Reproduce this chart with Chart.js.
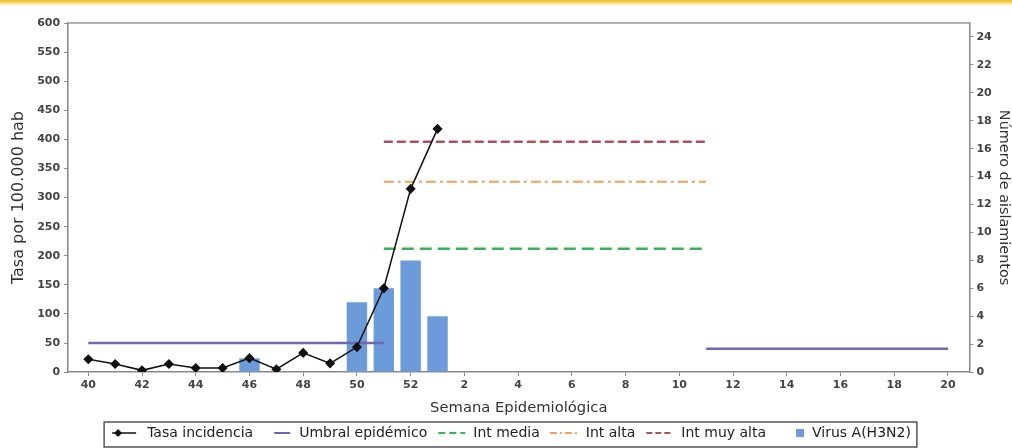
<!DOCTYPE html>
<html>
<head>
<meta charset="utf-8">
<script src="https://cdn.jsdelivr.net/npm/chart.js@4/dist/chart.umd.min.js"></script>
<style>
html, body { margin: 0; padding: 0; background: #fff; }
#wrap { position: relative; width: 1012px; height: 448px; }
#strip { position: absolute; left: 0; top: 0; width: 1012px; height: 6px; background: linear-gradient(#f0bd1a, rgba(255,255,255,0)); }
</style>
</head>
<body>
<div id="wrap">
  <canvas id="fluChart" width="1012" height="448"></canvas>
  <div id="strip"></div>
</div>
<script>
// semanas epidemiologicas (40..52, 1..20)
const weeks = [40, 41, 42, 43, 44, 45, 46, 47, 48, 49, 50, 51, 52,
  1, 2, 3, 4, 5, 6, 7, 8, 9, 10, 11, 12, 13, 14, 15, 16, 17, 18, 19, 20];

const tasaIncidencia = [22, 14, 3, 14, 7, 7, 24, 5, 33, 15, 43, 144, 315, 418,
  null, null, null, null, null, null, null, null, null, null, null, null, null, null, null, null, null, null, null];

const umbralEpidemico = [50, 50, 50, 50, 50, 50, 50, 50, 50, 50, 50, 50,
  null, null, null, null, null, null, null, null, null, null, null,
  40, 40, 40, 40, 40, 40, 40, 40, 40, 40];

const intMedia = [null, null, null, null, null, null, null, null, null, null, null,
  212, 212, 212, 212, 212, 212, 212, 212, 212, 212, 212, 212, 212,
  null, null, null, null, null, null, null, null, null];

const intAlta = [null, null, null, null, null, null, null, null, null, null, null,
  327, 327, 327, 327, 327, 327, 327, 327, 327, 327, 327, 327, 327,
  null, null, null, null, null, null, null, null, null];

const intMuyAlta = [null, null, null, null, null, null, null, null, null, null, null,
  396, 396, 396, 396, 396, 396, 396, 396, 396, 396, 396, 396, 396,
  null, null, null, null, null, null, null, null, null];

const virusH3N2 = [null, null, null, null, null, null, 1, null, null, null, 5, 6, 8, 4,
  null, null, null, null, null, null, null, null, null, null, null, null, null, null, null, null, null, null, null];

const toXY = arr => arr.map((v, i) => ({ x: i, y: v }));

Chart.defaults.font.family = '"DejaVu Sans", sans-serif';
Chart.defaults.color = '#333';

// small legend symbols
function icon(draw) {
  const c = document.createElement('canvas');
  c.width = 30; c.height = 14;
  const g = c.getContext('2d');
  draw(g);
  return c;
}
function hline(g, color, width, dash, x0, x1) {
  g.strokeStyle = color; g.lineWidth = width; g.setLineDash(dash);
  g.beginPath(); g.moveTo(x0, 7); g.lineTo(x1, 7); g.stroke();
}
const legendIcons = [
  icon(g => {
    hline(g, '#111', 1.5, [], 2, 26);
    g.fillStyle = '#111';
    g.beginPath(); g.moveTo(8, 3); g.lineTo(12, 7); g.lineTo(8, 11); g.lineTo(4, 7); g.closePath(); g.fill();
  }),
  icon(g => hline(g, '#6f67b3', 2, [], 12, 28)),
  icon(g => hline(g, '#33b35a', 2, [7, 4], 2, 29)),
  icon(g => hline(g, '#f2a05a', 2, [7, 3, 2, 3], 1, 30)),
  icon(g => hline(g, '#b0505a', 2, [6, 3], 2, 29)),
  icon(g => { g.fillStyle = '#6b9bd8'; g.fillRect(21, 3, 8, 8); })
];

const frames = {
  id: 'frames',
  afterDraw(chart) {
    const ctx = chart.ctx;
    const a = chart.chartArea;
    ctx.save();
    ctx.strokeStyle = '#999';
    ctx.lineWidth = 1.5;
    ctx.beginPath(); ctx.moveTo(a.left, a.top); ctx.lineTo(a.right, a.top); ctx.stroke();
    const boxes = chart.legend.legendHitBoxes;
    if (boxes.length) {
      const first = boxes[0], last = boxes[boxes.length - 1];
      ctx.strokeStyle = '#555';
      ctx.strokeRect(first.left - 6, first.top - 4, last.left + last.width - first.left + 12, first.height + 11);
    }
    ctx.restore();
  }
};

const tickFont = { size: 11, weight: 'bold' };

new Chart(document.getElementById('fluChart'), {
  data: {
    datasets: [
      { type: 'line', label: 'Tasa incidencia', data: toXY(tasaIncidencia), yAxisID: 'y',
        borderColor: '#111', backgroundColor: '#111', borderWidth: 1.5,
        pointStyle: 'rectRot', pointRadius: 4, pointBackgroundColor: '#111' },
      { type: 'line', label: 'Umbral epidémico', data: toXY(umbralEpidemico), yAxisID: 'y',
        borderColor: '#6f67b3', borderWidth: 2.5, pointRadius: 0 },
      { type: 'line', label: 'Int media', data: toXY(intMedia), yAxisID: 'y',
        borderColor: '#33b35a', borderWidth: 2.5, borderDash: [12, 6], pointRadius: 0 },
      { type: 'line', label: 'Int alta', data: toXY(intAlta), yAxisID: 'y',
        borderColor: '#f2a05a', borderWidth: 2, borderDash: [10, 4, 3, 4], pointRadius: 0 },
      { type: 'line', label: 'Int muy alta', data: toXY(intMuyAlta), yAxisID: 'y',
        borderColor: '#b0505a', borderWidth: 2.5, borderDash: [9, 4], pointRadius: 0 },
      { type: 'bar', label: 'Virus A(H3N2)', data: toXY(virusH3N2), yAxisID: 'y1',
        backgroundColor: '#6b9bd8', categoryPercentage: 0.8, barPercentage: 0.95 }
    ]
  },
  options: {
    responsive: false,
    animation: false,
    layout: { padding: { left: 9, right: 0, top: 23, bottom: -2 } },
    plugins: {
      tooltip: { enabled: false },
      legend: {
        position: 'bottom',
        labels: {
          usePointStyle: true,
          pointStyleWidth: 30,
          padding: 9,
          color: '#222',
          font: { size: 14 },
          generateLabels: chart => Chart.defaults.plugins.legend.labels.generateLabels(chart)
            .map((item, i) => ({ ...item, pointStyle: legendIcons[i] }))
        }
      }
    },
    scales: {
      x: {
        type: 'linear', min: -0.75, max: 32.8, bounds: 'data', offset: false,
        afterBuildTicks: axis => {
          axis.ticks = weeks.map((w, i) => ({ value: i })).filter(t => t.value % 2 === 0);
        },
        border: { color: '#888', width: 1.5 },
        grid: { drawOnChartArea: false, offset: false, tickLength: 4, color: '#888' },
        ticks: { autoSkip: false, maxRotation: 0, padding: 2,
          font: tickFont, color: '#444', callback: v => weeks[v] ?? '' },
        title: { display: true, text: 'Semana Epidemiológica', font: { size: 14.75 }, color: '#333', padding: { top: 6, bottom: 0 } }
      },
      y: {
        position: 'left', min: 0, max: 600,
        border: { color: '#888', width: 1.5 },
        grid: { drawOnChartArea: false, tickLength: 4, color: '#888' },
        ticks: { stepSize: 50, padding: 4, font: tickFont, color: '#444' },
        title: { display: true, text: 'Tasa por 100.000 hab', font: { size: 16 }, color: '#333', padding: { top: 0, bottom: 5 } }
      },
      y1: {
        position: 'right', min: 0, max: 25,
        border: { color: '#888', width: 1.5 },
        grid: { drawOnChartArea: false, tickLength: 4, color: '#888' },
        ticks: { stepSize: 2, includeBounds: false, padding: 3, font: tickFont, color: '#444' },
        title: { display: true, text: 'Número de aislamientos', font: { size: 14.4 }, color: '#333', padding: { top: 0, bottom: 0 } }
      }
    }
  },
  plugins: [frames]
});
</script>
</body>
</html>
